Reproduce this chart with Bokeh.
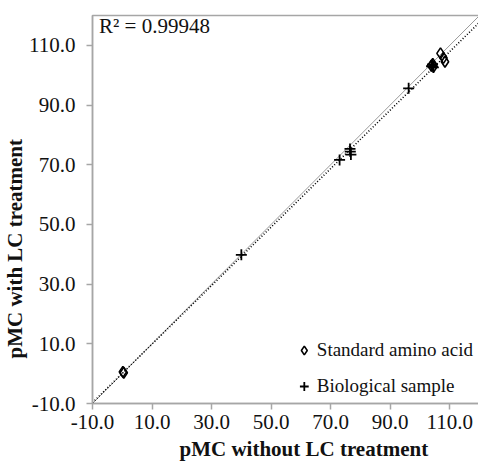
import numpy as np
from bokeh.plotting import figure
from bokeh.models import (FixedTicker, NumeralTickFormatter, Label, Legend, LegendItem, Range1d, Title)
from bokeh.embed import file_html
from bokeh.resources import INLINE

# Data
std_x = [0.2, 0.5, 103.8, 104.3, 104.6, 106.9, 107.9, 108.4]
std_y = [0.6, 0.3, 103.2, 103.8, 102.9, 107.3, 105.8, 104.5]
bio_x = [40.0, 73.0, 76.5, 76.6, 76.8, 96.2, 103.9, 104.2, 104.5]
bio_y = [39.8, 71.6, 75.3, 74.4, 73.4, 95.6, 103.0, 103.6, 102.6]
ticks = [-10, 10, 30, 50, 70, 90, 110]
axis_range = [-10, 120]
fit_slope = 0.98
fit_intercept = 0.1
r2_text = "R\u00b2 = 0.99948"
x_label = "pMC without LC treatment"
y_label = "pMC with LC treatment"
legend_labels = ["Standard amino acid", "Biological sample"]

FONT = "Liberation Serif"
GRAY = "#a6a6a6"

p = figure(frame_width=387, frame_height=388, output_backend="svg", toolbar_location=None,
           x_range=Range1d(*axis_range), y_range=Range1d(*axis_range),
           min_border_left=90, min_border_top=15, min_border_right=1, min_border_bottom=59)
p.background_fill_color = "white"
p.border_fill_color = "white"
p.outline_line_color = GRAY
p.outline_line_width = 1.5
p.xgrid.visible = False
p.ygrid.visible = False

for ax in (p.xaxis[0], p.yaxis[0]):
    ax.ticker = FixedTicker(ticks=ticks, minor_ticks=[])
    ax.formatter = NumeralTickFormatter(format="0.0")
    ax.axis_line_color = GRAY
    ax.axis_line_width = 1.5
    ax.major_tick_line_color = GRAY
    ax.major_tick_line_width = 1.5
    ax.major_tick_out = 6
    ax.major_tick_in = 0
    ax.minor_tick_line_color = None
    ax.major_label_text_font = FONT
    ax.major_label_text_font_size = "21px"
    ax.major_label_text_color = "#111111"
p.xaxis[0].major_label_standoff = 5
p.yaxis[0].major_label_standoff = 11

# 1:1 line and fitted line
xs = np.array(axis_range, dtype=float)
p.line(xs, xs, line_color="#9a9a9a", line_width=1)
p.line(xs, fit_slope * xs + fit_intercept, line_color="black", line_width=1.6, line_dash="1 2")

r_std = p.scatter(std_x, std_y, marker="diamond", size=11, fill_color=None,
                  line_color="black", line_width=1.6)
r_bio = p.scatter(bio_x, bio_y, marker="cross", size=11, line_color="black", line_width=1.8)

legend = Legend(items=[LegendItem(label=legend_labels[0], renderers=[r_std]),
                       LegendItem(label=legend_labels[1], renderers=[r_bio])],
                location="bottom_right", border_line_alpha=0, background_fill_alpha=0,
                label_text_font=FONT, label_text_font_size="19px", label_text_color="#111111",
                glyph_width=22, glyph_height=22, label_standoff=2, spacing=14,
                padding=2, margin=4)
p.add_layout(legend)

p.add_layout(Label(x=-7.8, y=116.6, text=r2_text, text_font=FONT, text_font_size="21px",
                   text_baseline="middle", text_align="left", text_color="#111111"))

# Axis titles (offset along the axis like the reference)
p.add_layout(Title(text=x_label, align="left", offset=87, standoff=7,
                   text_font=FONT, text_font_size="21px", text_font_style="bold",
                   text_color="#111111"), "below")
p.add_layout(Title(text=y_label, align="left", offset=45, standoff=0,
                   text_font=FONT, text_font_size="21px", text_font_style="bold",
                   text_color="#111111"), "left")

open("out.html", "w").write(file_html(p, INLINE))
